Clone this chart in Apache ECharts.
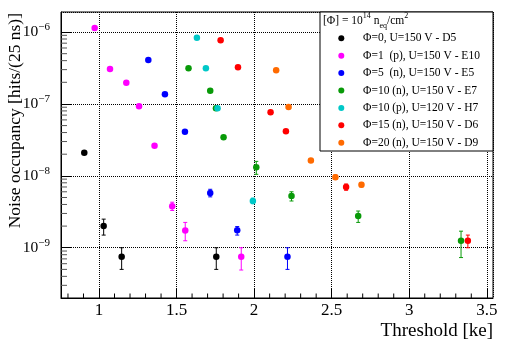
<!DOCTYPE html>
<html>
<head>
<meta charset="utf-8">
<script src="https://cdn.jsdelivr.net/npm/echarts@6/dist/echarts.min.js"></script>
<style>
html, body {margin: 0; padding: 0; background: #fff;}
#chart {width: 508px; height: 346px;}
</style>
</head>
<body>
<div id="chart"></div>
<script>
// axis ranges
let xMin = 0.755, xMax = 3.54;
let yMin = 2e-10, yMax = 1.9e-6;

// [threshold, occupancy]
let pointsD5 = [[0.905, 2.09e-8], [1.030, 2.0e-9], [1.146, 7.5e-10], [1.756, 7.5e-10]];
let pointsE10 = [[0.972, 1.14e-6], [1.071, 3.06e-7], [1.176, 1.97e-7], [1.258, 9.27e-8], [1.358, 2.62e-8], [1.472, 3.77e-9], [1.556, 1.74e-9], [1.917, 7.5e-10]];
let pointsE5 = [[1.318, 4.08e-7], [1.425, 1.36e-7], [1.554, 4.1e-8], [1.717, 5.77e-9], [1.891, 1.75e-9], [2.215, 7.5e-10]];
let pointsE7 = [[1.577, 3.13e-7], [1.717, 1.53e-7], [1.754, 8.7e-8], [1.803, 3.43e-8], [2.014, 1.32e-8], [2.241, 5.24e-9], [2.671, 2.76e-9], [3.334, 1.25e-9]];
let pointsH7 = [[1.631, 8.33e-7], [1.689, 3.13e-7], [1.764, 8.7e-8], [1.992, 4.47e-9]];
let pointsD6 = [[1.784, 7.67e-7], [1.896, 3.23e-7], [2.106, 7.64e-8], [2.205, 4.16e-8], [2.593, 6.98e-9], [3.378, 1.25e-9]];
let pointsD9 = [[2.142, 2.93e-7], [2.222, 9.06e-8], [2.366, 1.64e-8], [2.524, 9.57e-9], [2.692, 7.52e-9]];

// [threshold, low, high]
let errorsD5 = [[1.030, 1.5e-9, 2.5e-9], [1.146, 5.0e-10, 1.0e-9], [1.756, 5.0e-10, 1.0e-9]];
let errorsE10 = [[1.472, 3.3e-9, 4.3e-9], [1.556, 1.25e-9, 2.25e-9], [1.917, 4.9e-10, 1.0e-9]];
let errorsE5 = [[1.717, 5.1e-9, 6.5e-9], [1.891, 1.5e-9, 1.97e-9], [2.215, 5.0e-10, 1.0e-9]];
let errorsE7 = [[2.014, 1.05e-8, 1.59e-8], [2.241, 4.47e-9, 6.0e-9], [2.671, 2.25e-9, 3.24e-9], [3.334, 7.3e-10, 1.7e-9]];
let errorsH7 = [[1.992, 4.1e-9, 4.9e-9]];
let errorsD6 = [[2.593, 6.3e-9, 7.7e-9], [3.378, 1.0e-9, 1.5e-9]];
let errorsD9 = [[2.524, 8.9e-9, 1.03e-8], [2.692, 7.0e-9, 8.1e-9]];

let names = [
    'Φ=0, U=150 V - D5',
    'Φ=1  (p), U=150 V - E10',
    'Φ=5  (n), U=150 V - E5',
    'Φ=10 (n), U=150 V - E7',
    'Φ=10 (p), U=120 V - H7',
    'Φ=15 (n), U=150 V - D6',
    'Φ=20 (n), U=150 V - D9'
];
let colors = ['#000000', '#ff00ff', '#0000ff', '#089a08', '#00c8c8', '#ff0000', '#ff6a00'];
let points = [pointsD5, pointsE10, pointsE5, pointsE7, pointsH7, pointsD6, pointsD9];
let errors = [errorsD5, errorsE10, errorsE5, errorsE7, errorsH7, errorsD6, errorsD9];

// minor tick positions
let xMinorTicks = [0.8, 0.9, 1.1, 1.2, 1.3, 1.4, 1.6, 1.7, 1.8, 1.9, 2.1, 2.2, 2.3, 2.4, 2.6, 2.7, 2.8, 2.9, 3.1, 3.2, 3.3, 3.4];
let yMinorTicks = [];
for (let e = -10; e <= -7; e++) {
    for (let m = 2; m <= 9; m++) {
        let v = m * Math.pow(10, e);
        if (v > yMin && v < yMax) yMinorTicks.push(v);
    }
}

let font = 'Liberation Serif';
let chart = echarts.init(document.getElementById('chart'), null, {renderer: 'canvas'});

let errorSeries = errors.map((errs, i) => ({
    type: 'custom',
    name: names[i] + ' err',
    data: errs,
    z: 2,
    silent: true,
    clip: false,
    renderItem: (params, api) => {
        let hi = api.coord([api.value(0), api.value(2)]);
        let lo = api.coord([api.value(0), api.value(1)]);
        let style = {stroke: colors[i], lineWidth: 1};
        return {
            type: 'group',
            children: [
                {type: 'line', shape: {x1: hi[0], y1: hi[1], x2: lo[0], y2: lo[1]}, style: style},
                {type: 'line', shape: {x1: hi[0] - 2, y1: hi[1], x2: hi[0] + 2, y2: hi[1]}, style: style},
                {type: 'line', shape: {x1: lo[0] - 2, y1: lo[1], x2: lo[0] + 2, y2: lo[1]}, style: style}
            ]
        };
    }
}));

let pointSeries = points.map((pts, i) => ({
    type: 'scatter',
    name: names[i],
    data: pts,
    symbol: 'circle',
    symbolSize: 6.5,
    itemStyle: {color: colors[i], opacity: 1},
    z: 3 + i,
    silent: true
}));

let minorSeries = [
    {
        type: 'custom',
        data: xMinorTicks.map(v => [v, yMin]),
        silent: true,
        clip: false,
        z: 1,
        renderItem: (params, api) => {
            let p = api.coord([api.value(0), yMin]);
            return {type: 'line', shape: {x1: p[0], y1: p[1], x2: p[0], y2: p[1] - 4.5}, style: {stroke: '#000', lineWidth: 1}};
        }
    },
    {
        type: 'custom',
        data: yMinorTicks.map(v => [xMin, v]),
        silent: true,
        clip: false,
        z: 1,
        renderItem: (params, api) => {
            let p = api.coord([xMin, api.value(1)]);
            return {type: 'line', shape: {x1: p[0], y1: p[1], x2: p[0] + 6, y2: p[1]}, style: {stroke: '#555', lineWidth: 1}};
        }
    }
];

let gridLine = {show: true, lineStyle: {color: '#000', type: 'dotted', width: 1, opacity: 1}};

let option = {
    animation: false,
    backgroundColor: '#fff',
    grid: {
        left: 61,
        top: 12,
        width: 432,
        height: 286,
        show: true,
        borderColor: '#000',
        borderWidth: 1
    },
    xAxis: {
        type: 'value',
        min: xMin,
        max: xMax,
        splitNumber: 5,
        axisLine: {show: true, onZero: false, lineStyle: {color: '#000', width: 1}},
        axisTick: {show: true, inside: true, length: 9, lineStyle: {color: '#000'}},
        axisLabel: {
            show: true,
            showMinLabel: false,
            showMaxLabel: false,
            margin: 4,
            color: '#000',
            fontFamily: font,
            fontSize: 17
        },
        splitLine: gridLine
    },
    yAxis: {
        type: 'log',
        logBase: 10,
        min: yMin,
        max: yMax,
        axisLine: {show: true, lineStyle: {color: '#000', width: 1}},
        axisTick: {show: true, inside: true, length: 11, lineStyle: {color: '#000'}},
        axisLabel: {
            show: true,
            showMinLabel: false,
            showMaxLabel: false,
            margin: 11,
            formatter: (value) => {
                let e = Math.round(Math.log10(value));
                return '{b|10}{s|−' + Math.abs(e) + '}';
            },
            rich: {
                b: {fontFamily: font, fontSize: 15.5, color: '#000', lineHeight: 20},
                s: {fontFamily: font, fontSize: 11, color: '#000', lineHeight: 11, verticalAlign: 'top'}
            }
        },
        splitLine: gridLine
    },
    legend: {
        show: true,
        orient: 'vertical',
        left: 338.3,
        top: 29.6,
        padding: 0,
        itemGap: 0,
        itemWidth: 6,
        itemHeight: 6,
        icon: 'circle',
        selectedMode: false,
        z: 30,
        data: names,
        textStyle: {
            fontFamily: font,
            fontSize: 11.5,
            color: '#000',
            lineHeight: 17.4,
            padding: [0, 0, 0, 13.7]
        }
    },
    graphic: {
        elements: [
            {
                type: 'rect',
                shape: {x: 320, y: 12, width: 173, height: 139},
                style: {fill: '#fff', stroke: '#000', lineWidth: 1},
                z: 10
            },
            {
                type: 'text',
                x: 323,
                y: 21,
                z: 11,
                style: {
                    text: '{n|[Φ] = 10}{sup|14}{n| n}{sub|eq}{n|/cm}{sup|2}',
                    verticalAlign: 'middle',
                    align: 'left',
                    rich: {
                        n: {fontFamily: font, fontSize: 11.5, fill: '#000', lineHeight: 18},
                        sup: {fontFamily: font, fontSize: 8, fill: '#000', lineHeight: 9, verticalAlign: 'top'},
                        sub: {fontFamily: font, fontSize: 8, fill: '#000', lineHeight: 9, verticalAlign: 'bottom'}
                    }
                }
            },
            {
                type: 'text',
                x: 493,
                y: 331,
                style: {
                    text: 'Threshold [ke]',
                    fontFamily: font,
                    fontSize: 19,
                    fill: '#000',
                    align: 'right',
                    verticalAlign: 'middle'
                }
            },
            {
                type: 'text',
                x: 15,
                y: 13,
                rotation: Math.PI / 2,
                style: {
                    text: 'Noise occupancy [hits/(25 ns)]',
                    fontFamily: font,
                    fontSize: 17.5,
                    fill: '#000',
                    align: 'right',
                    verticalAlign: 'middle'
                }
            }
        ]
    },
    series: [...minorSeries, ...errorSeries, ...pointSeries]
};

chart.setOption(option);
window.addEventListener('resize', chart.resize);
</script>
</body>
</html>
